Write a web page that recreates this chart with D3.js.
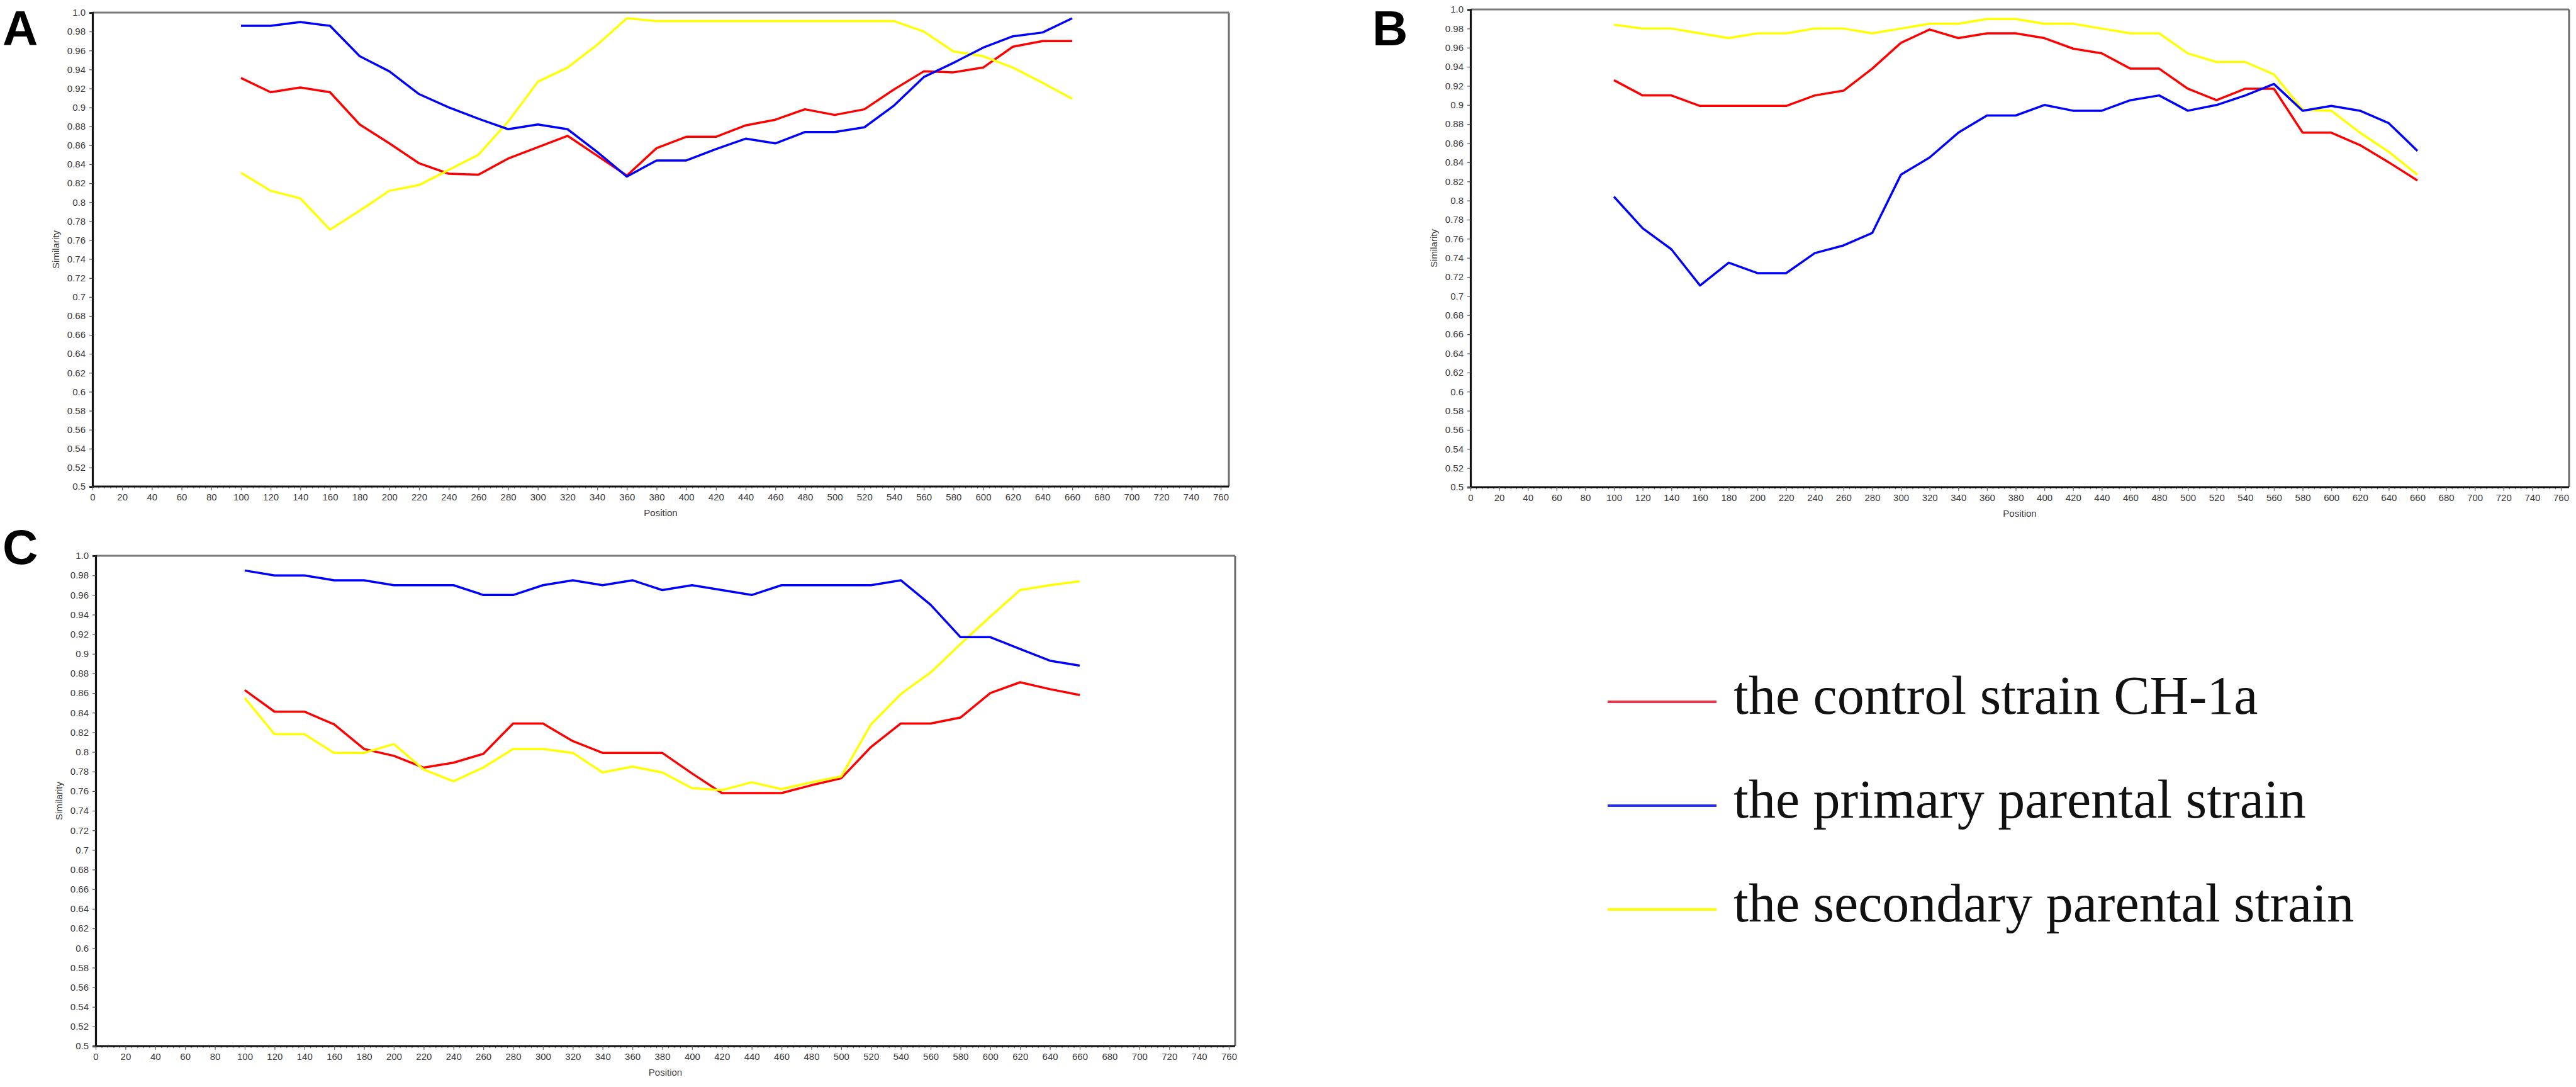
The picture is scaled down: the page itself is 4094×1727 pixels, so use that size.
<!DOCTYPE html>
<html><head><meta charset="utf-8">
<script src="https://cdn.jsdelivr.net/npm/d3@7"></script>
<style>html,body{margin:0;padding:0;background:#fff;}svg{display:block;}</style>
</head><body>
<svg id="chart" width="4094" height="1727"></svg>
<script>
// ---------------- data ----------------
const positions = [100,120,140,160,180,200,220,240,260,280,300,320,340,360,380,400,420,440,460,480,500,520,540,560,580,600,620,640,660];
const xTickValues = d3.range(0, 761, 20);
const yTickValues = [0.5,0.52,0.54,0.56,0.58,0.6,0.62,0.64,0.66,0.68,0.7,0.72,0.74,0.76,0.78,0.8,0.82,0.84,0.86,0.88,0.9,0.92,0.94,0.96,0.98,1.0];
const yTickLabels = ["0.5","0.52","0.54","0.56","0.58","0.6","0.62","0.64","0.66","0.68","0.7","0.72","0.74","0.76","0.78","0.8","0.82","0.84","0.86","0.88","0.9","0.92","0.94","0.96","0.98","1.0"];
const seriesNames = ["the control strain CH-1a","the primary parental strain","the secondary parental strain"];
const seriesColors = ["#ff0000","#0000ff","#ffff00"];
const legendColors = ["#f2334a","#2433e8","#ffff00"];
const panelLetters = ["A","B","C"];
const xAxisTitle = "Position";
const yAxisTitle = "Similarity";

const A_control   = [0.931,0.916,0.921,0.916,0.882,0.862,0.841,0.830,0.829,0.846,0.858,0.870,0.849,0.828,0.857,0.869,0.869,0.881,0.887,0.898,0.892,0.898,0.919,0.938,0.937,0.942,0.964,0.970,0.970];
const A_primary   = [0.986,0.986,0.990,0.986,0.954,0.938,0.914,0.900,0.888,0.877,0.882,0.877,0.853,0.827,0.844,0.844,0.856,0.867,0.862,0.874,0.874,0.879,0.902,0.932,0.947,0.963,0.975,0.979,0.994];
const A_secondary = [0.831,0.812,0.804,0.771,0.791,0.812,0.818,0.834,0.850,0.885,0.927,0.942,0.966,0.994,0.991,0.991,0.991,0.991,0.991,0.991,0.991,0.991,0.991,0.980,0.959,0.954,0.942,0.926,0.909];

const B_control   = [0.926,0.910,0.910,0.899,0.899,0.899,0.899,0.910,0.915,0.938,0.965,0.979,0.970,0.975,0.975,0.970,0.959,0.954,0.938,0.938,0.917,0.905,0.917,0.917,0.871,0.871,0.858,0.840,0.821];
const B_primary   = [0.804,0.771,0.749,0.711,0.735,0.724,0.724,0.745,0.753,0.766,0.827,0.845,0.871,0.889,0.889,0.900,0.894,0.894,0.905,0.910,0.894,0.900,0.910,0.922,0.894,0.899,0.894,0.881,0.852];
const B_secondary = [0.984,0.980,0.980,0.975,0.970,0.975,0.975,0.980,0.980,0.975,0.980,0.985,0.985,0.990,0.990,0.985,0.985,0.980,0.975,0.975,0.954,0.945,0.945,0.932,0.895,0.894,0.871,0.851,0.827];

const C_control   = [0.863,0.841,0.841,0.828,0.803,0.796,0.784,0.789,0.798,0.829,0.829,0.811,0.799,0.799,0.799,0.778,0.758,0.758,0.758,0.766,0.773,0.805,0.829,0.829,0.835,0.860,0.871,0.864,0.858];
const C_primary   = [0.985,0.980,0.980,0.975,0.975,0.970,0.970,0.970,0.960,0.960,0.970,0.975,0.970,0.975,0.965,0.970,0.965,0.960,0.970,0.970,0.970,0.970,0.975,0.950,0.917,0.917,0.905,0.893,0.888];
const C_secondary = [0.855,0.818,0.818,0.799,0.799,0.808,0.782,0.770,0.784,0.803,0.803,0.799,0.779,0.785,0.779,0.763,0.761,0.769,0.762,0.769,0.775,0.828,0.859,0.881,0.910,0.938,0.965,0.970,0.974];

// ---------------- layout ----------------
const panels = [
  {letter: panelLetters[0], series: [A_control, A_primary, A_secondary], x0: 147, x760: 1940, right: 1953, top: 20, bottom: 773, lx: 4, ly: 72},
  {letter: panelLetters[1], series: [B_control, B_primary, B_secondary], x0: 2337, x760: 4070, right: 4083, top: 15, bottom: 774, lx: 2181, ly: 72},
  {letter: panelLetters[2], series: [C_control, C_primary, C_secondary], x0: 152, x760: 1953, right: 1963, top: 883, bottom: 1662, lx: 4, ly: 896}
];
const drawOrder = [0, 2, 1];

const svg = d3.select("#chart");
svg.append("rect").attr("width", 4094).attr("height", 1727).attr("fill", "#fff");

panels.forEach(p => {
  const g = svg.append("g");
  const x = d3.scaleLinear().domain([0, 760]).range([p.x0, p.x760]);
  const y = d3.scaleLinear().domain([0.5, 1.0]).range([p.bottom, p.top]);

  // frame: top and right grey, left and bottom black
  g.append("line").attr("x1", p.x0).attr("x2", p.right).attr("y1", p.top).attr("y2", p.top)
    .attr("stroke", "#7a7a7a").attr("stroke-width", 3);
  g.append("line").attr("x1", p.right).attr("x2", p.right).attr("y1", p.top).attr("y2", p.bottom)
    .attr("stroke", "#6a6a6a").attr("stroke-width", 3);

  // y axis
  const yAxis = d3.axisLeft(y).tickValues(yTickValues)
    .tickFormat((d, i) => yTickLabels[i]).tickSize(5).tickPadding(6);
  const ya = g.append("g").attr("transform", `translate(${p.x0},0)`).call(yAxis);
  ya.select(".domain").attr("stroke", "#111").attr("stroke-width", 3.2);
  ya.selectAll(".tick line").attr("stroke", "#555").attr("stroke-width", 1.2);
  ya.selectAll(".tick text").attr("font-family", "Liberation Sans, Arial, sans-serif")
    .attr("font-size", 15).attr("fill", "#3a3a3a");

  // x axis minor ticks
  const xMinor = d3.axisBottom(x).tickValues(d3.range(0, 761, 4)).tickFormat("").tickSize(3);
  const xm = g.append("g").attr("transform", `translate(0,${p.bottom})`).call(xMinor);
  xm.select(".domain").remove();
  xm.selectAll(".tick line").attr("stroke", "#666").attr("stroke-width", 1.2);

  // x axis
  const xAxis = d3.axisBottom(x).tickValues(xTickValues).tickSize(6).tickPadding(5);
  const xa = g.append("g").attr("transform", `translate(0,${p.bottom})`).call(xAxis);
  xa.select(".domain").attr("d", `M${p.x0},0H${p.right}`).attr("stroke", "#111").attr("stroke-width", 3.2);
  xa.selectAll(".tick line").attr("stroke", "#666").attr("stroke-width", 1.2);
  xa.selectAll(".tick text").attr("font-family", "Liberation Sans, Arial, sans-serif")
    .attr("font-size", 15).attr("fill", "#3a3a3a");

  // axis titles
  g.append("text").attr("x", (p.x0 + p.right) / 2).attr("y", p.bottom + 47)
    .attr("text-anchor", "middle").attr("font-family", "Liberation Sans, Arial, sans-serif")
    .attr("font-size", 15).attr("fill", "#3a3a3a").text(xAxisTitle);
  g.append("text").attr("transform", `translate(${p.x0 - 53},${(p.top + p.bottom) / 2}) rotate(-90)`)
    .attr("text-anchor", "middle").attr("font-family", "Liberation Sans, Arial, sans-serif")
    .attr("font-size", 15).attr("fill", "#3a3a3a").text(yAxisTitle);

  // lines
  const line = d3.line().x((d, i) => x(positions[i])).y(d => y(d));
  drawOrder.forEach(k => {
    g.append("path").datum(p.series[k]).attr("d", line)
      .attr("fill", "none").attr("stroke", seriesColors[k]).attr("stroke-width", 3.5)
      .attr("stroke-linejoin", "round");
  });

  // panel letter
  svg.append("text").attr("x", p.lx).attr("y", p.ly)
    .attr("font-family", "Liberation Sans, Arial, sans-serif").attr("font-weight", "bold")
    .attr("font-size", 78).attr("fill", "#000").text(p.letter);
});

// ---------------- legend ----------------
const legendRows = [1115, 1280, 1445];
const lg = svg.append("g");
seriesNames.forEach((name, i) => {
  lg.append("line").attr("x1", 2555).attr("x2", 2728).attr("y1", legendRows[i]).attr("y2", legendRows[i])
    .attr("stroke", legendColors[i]).attr("stroke-width", 4);
  lg.append("text").attr("x", 2755).attr("y", legendRows[i] + 19)
    .attr("font-family", "Liberation Serif, 'Times New Roman', serif")
    .attr("font-size", 86).attr("fill", "#111").text(name);
});
</script>
</body></html>
